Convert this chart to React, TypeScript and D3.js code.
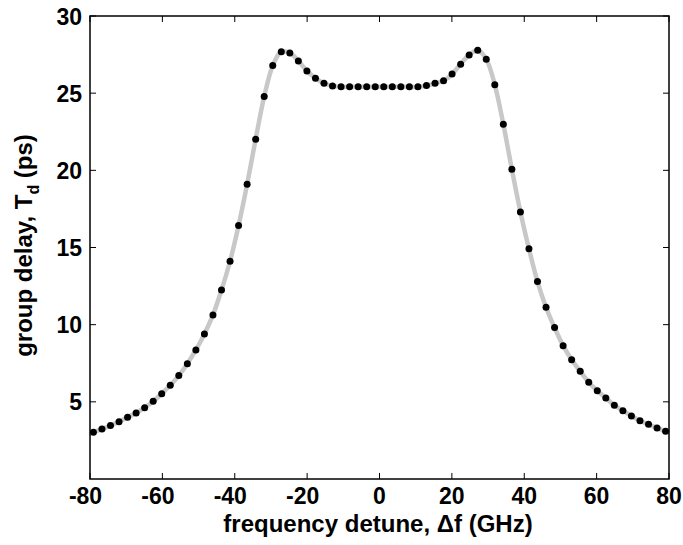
import React from "react";
import * as d3 from "d3";

const freqGHz: number[] = [
  -79.06, -76.7, -74.34, -71.98, -69.62, -67.26, -64.9, -62.54, -60.18, -57.82,
  -55.46, -53.1, -50.74, -48.38, -46.02, -43.66, -41.3, -38.94, -36.58, -34.22,
  -31.86, -29.5, -27.14, -24.78, -22.42, -20.06, -17.7, -15.34, -12.98, -10.62,
  -8.26, -5.9, -3.54, -1.18, 1.18, 3.54, 5.9, 8.26, 10.62, 12.98,
  15.34, 17.7, 20.06, 22.42, 24.78, 27.14, 29.5, 31.86, 34.22, 36.58,
  38.94, 41.3, 43.66, 46.02, 48.38, 50.74, 53.1, 55.46, 57.82, 60.18,
  62.54, 64.9, 67.26, 69.62, 71.98, 74.34, 76.7, 79.06,
];

const delayPs: number[] = [
  3.03, 3.24, 3.46, 3.71, 4.0, 4.28, 4.62, 5.03, 5.53, 6.07,
  6.7, 7.47, 8.36, 9.4, 10.63, 12.25, 14.11, 16.43, 19.1, 22.02,
  24.78, 26.79, 27.69, 27.61, 27.09, 26.44, 25.97, 25.64, 25.47, 25.41,
  25.41, 25.41, 25.41, 25.41, 25.41, 25.41, 25.41, 25.41, 25.41, 25.49,
  25.64, 25.81, 26.24, 26.88, 27.48, 27.78, 27.2, 25.54, 22.99, 20.07,
  17.3, 14.92, 12.79, 11.13, 9.81, 8.64, 7.73, 6.98, 6.27, 5.72,
  5.25, 4.78, 4.43, 4.08, 3.78, 3.54, 3.31, 3.09,
];

const xTicks: number[] = [-80, -60, -40, -20, 0, 20, 40, 60, 80];
const yTicks: number[] = [5, 10, 15, 20, 25, 30];

const W = 683;
const H = 545;
const L = 90;
const R = 669;
const T = 16;
const B = 479;
const FONT = "'Liberation Sans', Arial, Helvetica, sans-serif";

export default function App() {
  const x = d3.scaleLinear().domain([-80, 80]).range([L, R]);
  const y = d3.scaleLinear().domain([0, 30]).range([B, T]);
  const pts = freqGHz.map((f, i) => [f, delayPs[i]] as [number, number]);
  const line = d3
    .line<[number, number]>()
    .x((d) => x(d[0]))
    .y((d) => y(d[1]))
    .curve(d3.curveCatmullRom.alpha(0.5));
  const tickLen = 6;
  return (
    <svg
      width={W}
      height={H}
      style={{ position: "absolute", left: 0, top: 0, background: "#fff" }}
      fontFamily={FONT}
      fontWeight="bold"
    >
      <rect x={0} y={0} width={W} height={H} fill="#fff" />
      <path d={line(pts) || ""} fill="none" stroke="#c8c8c8" strokeWidth={4.5} />
      {pts.map((d, i) => (
        <circle key={i} cx={x(d[0])} cy={y(d[1])} r={3.5} fill="#000" />
      ))}
      <rect x={L} y={T} width={R - L} height={B - T} fill="none" stroke="#000" strokeWidth={1.5} />
      {xTicks.map((t) => (
        <g key={"x" + t}>
          <line x1={x(t)} x2={x(t)} y1={B} y2={B - tickLen} stroke="#000" strokeWidth={1} />
          <line x1={x(t)} x2={x(t)} y1={T} y2={T + tickLen} stroke="#000" strokeWidth={1} />
          <text x={x(t) - (t < 0 ? 4.5 : 0)} y={504} textAnchor="middle" fontSize={23} fill="#000">
            {t}
          </text>
        </g>
      ))}
      {yTicks.map((t) => (
        <g key={"y" + t}>
          <line x1={L} x2={L + tickLen} y1={y(t)} y2={y(t)} stroke="#000" strokeWidth={1} />
          <line x1={R} x2={R - tickLen} y1={y(t)} y2={y(t)} stroke="#000" strokeWidth={1} />
          <text x={82} y={y(t) + 8.5} textAnchor="end" fontSize={23} fill="#000">
            {t}
          </text>
        </g>
      ))}
      <text x={378} y={532} textAnchor="middle" fontSize={24} fill="#000">
        frequency detune, Δf (GHz)
      </text>
      <text
        transform={`translate(32, ${(T + B) / 2 - 2}) rotate(-90)`}
        textAnchor="middle"
        fontSize={24}
        fill="#000"
      >
        group delay, T
        <tspan fontSize={16} dy={7}>d</tspan>
        <tspan dy={-7}> (ps)</tspan>
      </text>
    </svg>
  );
}
